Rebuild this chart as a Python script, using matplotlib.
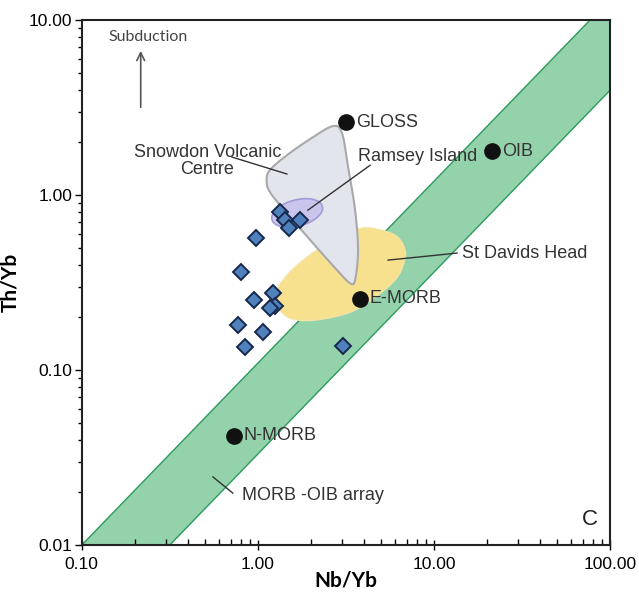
import numpy as np
import matplotlib.pyplot as plt
from matplotlib.ticker import FixedLocator, LogLocator, NullFormatter, FuncFormatter

plt.rcParams['font.family'] = ['Liberation Sans', 'DejaVu Sans']

# --- sample data (Nb/Yb, Th/Yb) ---
sample_nb = [1.33, 1.42, 1.73, 1.50, 0.98, 0.80, 1.22, 0.95, 1.25, 1.17, 0.77, 1.07, 0.84, 3.04]
sample_th = [0.80, 0.72, 0.72, 0.65, 0.57, 0.363, 0.275, 0.25, 0.232, 0.226, 0.181, 0.165, 0.135, 0.137]

# reference compositions
ref_names = ['GLOSS', 'OIB', 'E-MORB', 'N-MORB']
ref_nb = [3.16, 21.3, 3.8, 0.73]
ref_th = [2.61, 1.78, 0.255, 0.042]

# MORB-OIB array: log(Th/Yb) = a + slope*log(Nb/Yb)
array_slope = 1.04
array_upper = [0.1, 0.01]      # point on upper edge
array_lower = [0.316, 0.01]    # point on lower edge

# field outlines (Nb/Yb, Th/Yb)
snowdon_nb = [2.67, 2.05, 1.46, 1.17, 1.12, 1.17, 1.46, 2.05, 2.81, 3.33, 3.56, 3.70, 3.56, 3.25, 3.00]
snowdon_th = [2.48, 2.14, 1.69, 1.39, 1.22, 1.04, 0.789, 0.532, 0.373, 0.314, 0.327, 0.485, 0.82, 1.445, 2.26]

davids_nb = [4.33, 6.0, 6.84, 6.67, 6.0, 4.62, 3.33, 2.11, 1.52, 1.28, 1.28, 1.52, 1.97, 2.74, 3.56]
davids_th = [0.648, 0.59, 0.485, 0.398, 0.327, 0.261, 0.214, 0.193, 0.198, 0.235, 0.286, 0.363, 0.454, 0.568, 0.631]

ramsey_centre = [1.67, 0.79]
ramsey_axes = [0.148, 0.075]   # semi axes in decades
ramsey_angle = 15


def smooth_closed(xs, ys, n=20):
    # periodic catmull-rom in log space
    lx, ly = np.log10(xs), np.log10(ys)
    pts = np.column_stack([lx, ly])
    m = len(pts)
    out = []
    for i in range(m):
        p0, p1, p2, p3 = pts[i - 1], pts[i], pts[(i + 1) % m], pts[(i + 2) % m]
        for t in np.linspace(0, 1, n, endpoint=False):
            t2, t3 = t * t, t * t * t
            out.append(0.5 * ((2 * p1) + (-p0 + p2) * t + (2 * p0 - 5 * p1 + 4 * p2 - p3) * t2
                              + (-p0 + 3 * p1 - 3 * p2 + p3) * t3))
    out = np.array(out)
    return 10 ** out[:, 0], 10 ** out[:, 1]


fig = plt.figure(figsize=(6.39, 5.92), dpi=100)
ax = fig.add_axes([0.128, 0.0794, 0.827, 0.8866])
ax.set_xscale('log')
ax.set_yscale('log')
ax.set_xlim(0.1, 100)
ax.set_ylim(0.01, 10)

# MORB-OIB band
xx = np.logspace(-1.5, 2.5, 50)
a_up = np.log10(array_upper[1]) - array_slope * np.log10(array_upper[0])
a_lo = np.log10(array_lower[1]) - array_slope * np.log10(array_lower[0])
y_up = 10 ** (a_up + array_slope * np.log10(xx))
y_lo = 10 ** (a_lo + array_slope * np.log10(xx))
ax.fill_between(xx, y_lo, y_up, color='#93d2ab', lw=0, zorder=1)
ax.plot(xx, y_up, color='#2c9a5e', lw=1, zorder=1.5)
ax.plot(xx, y_lo, color='#2c9a5e', lw=1, zorder=1.5)

# St Davids Head
dx, dy = smooth_closed(davids_nb, davids_th)
ax.fill(dx, dy, color='#f7e08e', ec='#f3e4a6', lw=1, zorder=2)

# Snowdon Volcanic Centre
sx, sy = smooth_closed(snowdon_nb, snowdon_th)
ax.fill(sx, sy, color='#e3e5ec', ec='#a9a9ab', lw=1.5, zorder=3)

# Ramsey Island ellipse
th = np.linspace(0, 2 * np.pi, 100)
ang = np.deg2rad(ramsey_angle)
ex = ramsey_axes[0] * np.cos(th) * np.cos(ang) - ramsey_axes[1] * np.sin(th) * np.sin(ang)
ey = ramsey_axes[0] * np.cos(th) * np.sin(ang) + ramsey_axes[1] * np.sin(th) * np.cos(ang)
ax.fill(ramsey_centre[0] * 10 ** ex, ramsey_centre[1] * 10 ** ey, color='#c8c2ec',
        ec='#9d94d6', lw=1.2, alpha=0.9, zorder=4)

# samples
ax.plot(sample_nb, sample_th, 'D', ms=8, mfc='#4f81bd', mec='#17284a', mew=1.4, zorder=6)

# reference points
ax.plot(ref_nb, ref_th, 'o', ms=11, color='#111111', zorder=7)
for name, x, y in zip(ref_names, ref_nb, ref_th):
    ax.annotate(name, (x, y), xytext=(7, 0), textcoords='offset points',
                ha='left', va='center', fontsize=13, color='#333333', zorder=8)

lead = dict(color='#333333', lw=1, zorder=8)
ax.text(0.516, 1.56, 'Snowdon Volcanic\nCentre', ha='center', va='center',
        fontsize=13, color='#333333', linespacing=1.0)
ax.plot([0.711, 1.46], [1.65, 1.32], **lead)
ax.text(3.70, 1.67, 'Ramsey Island', ha='left', va='center', fontsize=13, color='#333333')
ax.plot([4.33, 1.92], [1.48, 0.82], **lead)
ax.text(14.4, 0.466, 'St Davids Head', ha='left', va='center', fontsize=13, color='#333333')
ax.plot([5.48, 13.5], [0.425, 0.466], **lead)
ax.text(0.81, 0.0193, 'MORB -OIB array', ha='left', va='center', fontsize=13, color='#333333')
ax.plot([0.555, 0.72], [0.0245, 0.0198], **lead)
ax.text(76.9, 0.0139, 'C', ha='center', va='center', fontsize=16, color='#222222')

# subduction arrow
ax.annotate('', xy=(0.216, 6.92), xytext=(0.216, 3.06),
            arrowprops=dict(arrowstyle='->', color='#555555', lw=1.2, mutation_scale=14))
ax.text(0.237, 8.0, 'Subduction', ha='center', va='center', fontsize=11.5,
        color='#444444', family=['Lato', 'DejaVu Sans'])

# axes styling
fmt = FuncFormatter(lambda v, p: f'{v:.2f}')
ax.xaxis.set_major_locator(FixedLocator([0.1, 1, 10, 100]))
ax.yaxis.set_major_locator(FixedLocator([0.01, 0.1, 1, 10]))
ax.xaxis.set_major_formatter(fmt)
ax.yaxis.set_major_formatter(fmt)
ax.xaxis.set_minor_locator(LogLocator(base=10, subs=np.arange(2, 10)))
ax.yaxis.set_minor_locator(LogLocator(base=10, subs=np.arange(2, 10)))
ax.xaxis.set_minor_formatter(NullFormatter())
ax.yaxis.set_minor_formatter(NullFormatter())
ax.tick_params(axis='x', which='major', direction='inout', length=7, width=1, labelsize=12.5, pad=5)
ax.tick_params(axis='x', which='minor', direction='in', length=4, width=1)
ax.tick_params(axis='y', which='major', direction='out', length=5, width=1, labelsize=12.5, pad=2)
ax.tick_params(axis='y', which='minor', direction='out', length=3, width=1)
for s in ax.spines.values():
    s.set_linewidth(1.5)
    s.set_color('#222222')

ax.set_xlabel('Nb/Yb', fontsize=15, fontweight='bold', family=['Lato', 'DejaVu Sans'], labelpad=-1)
ax.set_ylabel('Th/Yb', fontsize=15, fontweight='bold', family=['Lato', 'DejaVu Sans'], labelpad=6)

fig.savefig('out.png', dpi=100)
